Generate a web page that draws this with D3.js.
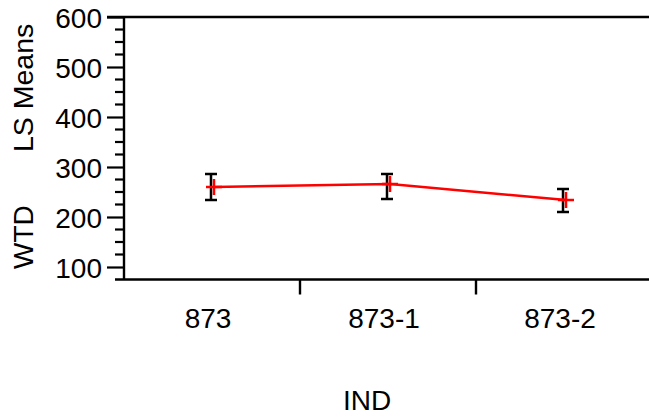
<!DOCTYPE html>
<html><head><meta charset="utf-8">
<script src="https://cdn.jsdelivr.net/npm/d3@7"></script>
<style>body{margin:0;background:#fff}svg{display:block}text{font-family:"Liberation Sans",Arial,sans-serif;fill:#000}</style>
</head><body>
<svg id="c" width="649" height="419"></svg>
<script>
const categories = ["873", "873-1", "873-2"];
const means = [260, 266, 234];
const upper = [286, 286, 256];
const lower = [234, 236, 210];
const yTicks = [100, 200, 300, 400, 500, 600];
const yLabelParts = ["WTD", "LS Means"];
const xTitle = "IND";

const svg = d3.select("#c");
const x = d3.scaleBand().domain(categories).range([124, 652]);
const y = d3.scaleLinear().domain([75, 600]).range([279.5, 17]);
const cx = c => x(c) + x.bandwidth() / 2;

// minor ticks
const minor = d3.range(100, 601, 25).filter(v => v % 100 !== 0);
svg.selectAll("line.minor").data(minor).join("line")
  .attr("x1", 115).attr("x2", 124).attr("y1", d => y(d)).attr("y2", d => y(d))
  .attr("stroke", "#000").attr("stroke-width", 2.2);

// y axis
const yAxis = d3.axisLeft(y).tickValues(yTicks).tickSize(17).tickPadding(5).tickFormat(d3.format("d"));
const gy = svg.append("g").attr("transform", "translate(124,0)").call(yAxis);
gy.select(".domain").remove();
gy.selectAll(".tick line").attr("stroke", "#000").attr("stroke-width", 2.2);
gy.selectAll(".tick text").attr("font-size", 28).attr("font-family", "Liberation Sans, Arial, sans-serif").attr("dy", "0.36em");

// axis lines / frame
svg.append("line").attr("x1", 124).attr("x2", 124).attr("y1", y(600)).attr("y2", y(75))
  .attr("stroke", "#000").attr("stroke-width", 2.4);
svg.append("line").attr("x1", 107).attr("x2", 649).attr("y1", y(600)).attr("y2", y(600))
  .attr("stroke", "#000").attr("stroke-width", 2.4);
svg.append("line").attr("x1", 115).attr("x2", 649).attr("y1", y(75)).attr("y2", y(75))
  .attr("stroke", "#000").attr("stroke-width", 2.4);

// x separators ticks
const seps = categories.slice(1).map(c => x(c));
svg.selectAll("line.sep").data(seps).join("line")
  .attr("x1", d => d).attr("x2", d => d).attr("y1", y(75)).attr("y2", y(75) + 15)
  .attr("stroke", "#000").attr("stroke-width", 2.4);

// x labels
svg.selectAll("text.xl").data(categories).join("text")
  .attr("x", d => cx(d) - 4).attr("y", 328).attr("text-anchor", "middle")
  .attr("font-size", 28).text(d => d);

svg.append("text").attr("x", 367).attr("y", 410).attr("text-anchor", "middle")
  .attr("font-size", 28).text(xTitle);

// y title
svg.append("text").attr("transform", "translate(33,269) rotate(-90)").attr("font-size", 28).text(yLabelParts[0]);
svg.append("text").attr("transform", "translate(33,152) rotate(-90)").attr("font-size", 28.5).text(yLabelParts[1]);

// error bars
const data = categories.map((c, i) => ({c, m: means[i], u: upper[i], l: lower[i]}));
const eb = svg.append("g").attr("stroke", "#000").attr("stroke-width", 2.5);
data.forEach(d => {
  const xc = cx(d.c) - 1;
  eb.append("line").attr("x1", xc).attr("x2", xc).attr("y1", y(d.u)).attr("y2", y(d.l));
  eb.append("line").attr("x1", xc - 6).attr("x2", xc + 6).attr("y1", y(d.u)).attr("y2", y(d.u));
  eb.append("line").attr("x1", xc - 6).attr("x2", xc + 6).attr("y1", y(d.l)).attr("y2", y(d.l));
});

// mean line
const line = d3.line().x(d => cx(d.c) + 2).y(d => y(d.m));
svg.append("path").datum(data).attr("d", line).attr("fill", "none")
  .attr("stroke", "#ff0000").attr("stroke-width", 2.5);
const mk = svg.append("g").attr("stroke", "#ff0000").attr("stroke-width", 2.5);
data.forEach(d => {
  const xc = cx(d.c) + 2, yc = y(d.m);
  mk.append("line").attr("x1", xc - 8).attr("x2", xc + 8).attr("y1", yc).attr("y2", yc);
  mk.append("line").attr("x1", xc).attr("x2", xc).attr("y1", yc - 8).attr("y2", yc + 8);
});
</script>
</body></html>
